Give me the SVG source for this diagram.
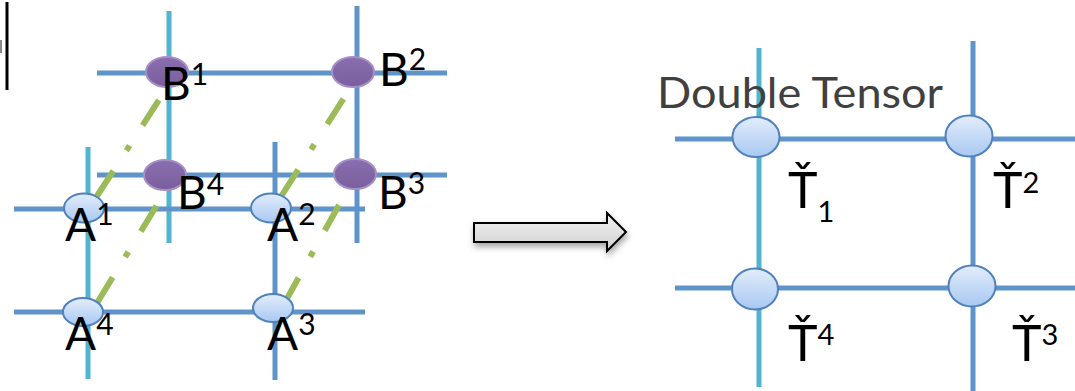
<svg xmlns="http://www.w3.org/2000/svg" width="1075" height="391" viewBox="0 0 1075 391">
<style>
.blue{stroke:#5F94CB;stroke-width:5;fill:none}
.cyan{stroke:#52B4CF;stroke-width:5;fill:none}
.green{stroke:#9BBB59;stroke-width:6;stroke-dasharray:30 24 6 24;fill:none}
.ea{fill:url(#ga);stroke:#4F81BD;stroke-width:2}
.eb{fill:url(#gb);stroke:#A58FC4;stroke-width:2}
.et{fill:url(#ga);stroke:#4F81BD;stroke-width:2}
.lbl{font-family:Lato,"Liberation Sans",sans-serif;font-size:46px;fill:#000}
.sup{font-size:30px}
.tl{font-family:Lato,"Liberation Sans",sans-serif;font-size:50px;fill:#000}
.ts{font-size:29px}
</style>
<defs>
<linearGradient id="ga" x1="0" y1="0" x2="0" y2="1">
<stop offset="0" stop-color="#E3EDFB"/>
<stop offset="1" stop-color="#A8C8F2"/>
</linearGradient>
<linearGradient id="gb" x1="0" y1="0" x2="0" y2="1">
<stop offset="0" stop-color="#8A6FB0"/>
<stop offset="1" stop-color="#7A5E9C"/>
</linearGradient>
<linearGradient id="garr" x1="0" y1="0" x2="0" y2="1">
<stop offset="0" stop-color="#F4F4F4"/>
<stop offset="1" stop-color="#CFCFCF"/>
</linearGradient>
<filter id="sh" x="-10%" y="-30%" width="130%" height="180%">
<feDropShadow dx="1" dy="4" stdDeviation="3" flood-color="#000" flood-opacity="0.35"/>
</filter>
</defs>
<rect width="1075" height="391" fill="#fff"/>
<rect x="0" y="40" width="2" height="13" fill="#888"/>
<line x1="7" y1="2" x2="7" y2="90" stroke="#000" stroke-width="3"/>
<g id="connectors">
<line class="cyan" x1="169" y1="11" x2="169" y2="243"/>
<line class="blue" x1="357" y1="6" x2="357" y2="243"/>
<line class="blue" x1="97" y1="73" x2="447" y2="73"/>
<line class="blue" x1="97" y1="175" x2="447" y2="175"/>
<line class="cyan" x1="88" y1="147" x2="88" y2="379"/>
<line class="blue" x1="275" y1="142" x2="275" y2="380"/>
<line class="blue" x1="14" y1="209" x2="365" y2="209"/>
<line class="blue" x1="14" y1="312" x2="365" y2="312"/>
<line class="green" x1="97" y1="196" x2="159" y2="100"/>
<line class="green" x1="97" y1="303" x2="157" y2="205"/>
<line class="green" x1="282" y1="195" x2="344" y2="98"/>
<line class="green" x1="284" y1="304" x2="339" y2="205"/>
<line class="blue" x1="675" y1="139" x2="1075" y2="139"/>
<line class="blue" x1="675" y1="288" x2="1075" y2="288"/>
<line class="cyan" x1="759" y1="48" x2="759" y2="387"/>
<line class="blue" x1="973" y1="41" x2="973" y2="391"/>
</g>
<g id="B1"><ellipse class="eb" cx="167" cy="72" rx="21" ry="15"/><text class="lbl" x="161" y="100">B<tspan class="sup" y="85">1</tspan></text></g>
<g id="B2"><ellipse class="eb" cx="353" cy="72" rx="21" ry="15"/><text class="lbl" x="379" y="86">B<tspan class="sup" y="70">2</tspan></text></g>
<g id="B4"><ellipse class="eb" cx="165" cy="175" rx="21" ry="15"/><text class="lbl" x="177" y="209">B<tspan class="sup" y="195">4</tspan></text></g>
<g id="B3"><ellipse class="eb" cx="355" cy="174" rx="21" ry="15"/><text class="lbl" x="378" y="209">B<tspan class="sup" y="194">3</tspan></text></g>
<g id="A1"><ellipse class="ea" cx="84" cy="208" rx="20" ry="14.5"/><text class="lbl" x="65" y="241">A<tspan class="sup" y="225">1</tspan></text></g>
<g id="A2"><ellipse class="ea" cx="271" cy="208" rx="20" ry="14.5"/><text class="lbl" x="267" y="241">A<tspan class="sup" y="225">2</tspan></text></g>
<g id="A4"><ellipse class="ea" cx="83" cy="312" rx="20" ry="14"/><text class="lbl" x="65" y="350">A<tspan class="sup" y="335">4</tspan></text></g>
<g id="A3"><ellipse class="ea" cx="273" cy="308" rx="20" ry="14"/><text class="lbl" x="267" y="350">A<tspan class="sup" y="335">3</tspan></text></g>
<g id="arrow"><path d="M474,223 H607 V213 L626,232 L607,251 V242 H474 Z" fill="url(#garr)" stroke="#000" stroke-width="2" stroke-linejoin="miter" filter="url(#sh)"/></g>
<g id="title"><text x="657" y="108" font-family="Lato,'Liberation Sans',sans-serif" font-size="43" fill="#404040" textLength="286" lengthAdjust="spacingAndGlyphs">Double Tensor</text></g>
<g id="T1"><ellipse class="et" cx="756" cy="137" rx="23.5" ry="20"/><text class="tl" x="788" y="208">Ť<tspan class="ts" y="222">1</tspan></text></g>
<g id="T2"><ellipse class="et" cx="969" cy="136" rx="23.5" ry="20.5"/><text class="tl" x="993" y="208">Ť<tspan class="ts" y="193">2</tspan></text></g>
<g id="T4"><ellipse class="et" cx="755" cy="289" rx="23" ry="20.5"/><text class="tl" x="788" y="361">Ť<tspan class="ts" y="345">4</tspan></text></g>
<g id="T3"><ellipse class="et" cx="972" cy="286" rx="23.5" ry="20.5"/><text class="tl" x="1012" y="361">Ť<tspan class="ts" y="345">3</tspan></text></g>
</svg>
